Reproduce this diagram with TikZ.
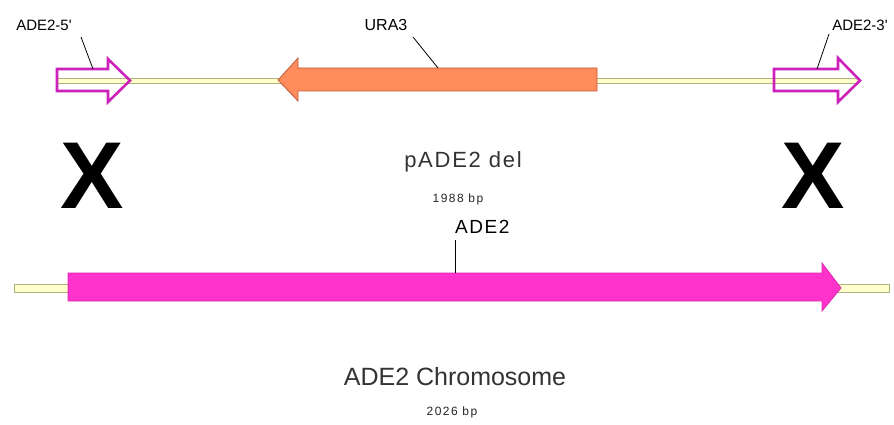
\documentclass[tikz,border=0pt]{standalone}
\usepackage{fontspec}
\setmainfont{Liberation Sans}
\begin{document}
\begin{tikzpicture}[x=1pt,y=-1pt,
  backbone/.style={draw=olivegray,fill=creamy,line width=0.8pt},
  hollowarrow/.style={draw=magline,line width=2.6pt,line join=miter},
  leader/.style={draw=black,line width=0.8pt},
  lbl/.style={inner sep=0pt,font=\fontsize{15}{15}\selectfont},
]
\definecolor{olivegray}{RGB}{176,176,128}
\definecolor{creamy}{RGB}{255,255,204}
\definecolor{magline}{RGB}{204,34,187}
\definecolor{orangefill}{RGB}{255,140,90}
\definecolor{orangeline}{RGB}{190,90,60}
\definecolor{pinkfill}{RGB}{255,51,204}
\definecolor{pinkline}{RGB}{220,40,170}
\useasboundingbox (0,0) rectangle (894,425);
\fill[white] (0,0) rectangle (894,425);

% top plasmid backbone
\path[backbone] (57,78) rectangle (858,83);

% ADE2-5' hollow arrow
\path[hollowarrow] (57,69) -- (108,69) -- (108,59) -- (130,80.5) -- (108,102) -- (108,91) -- (57,91) -- cycle;
\coordinate (a5) at (93,69);
% ADE2-3' hollow arrow
\path[hollowarrow] (774,69) -- (838,69) -- (838,58) -- (860,80.5) -- (838,102) -- (838,91) -- (774,91) -- cycle;
\coordinate (a3) at (817,69);
% URA3 arrow
\path[draw=orangeline,fill=orangefill,line width=0.8pt] (597,68) -- (298,68) -- (298,58) -- (278,80) -- (298,101) -- (298,91) -- (597,91) -- cycle;
\coordinate (u3) at (438,68);

% labels
\node[lbl] (l5) at (44,25) {ADE2-5\textquotesingle};
\node[lbl] (l3) at (860,25) {ADE2-3\textquotesingle};
\node[lbl,font=\fontsize{16}{16}\selectfont] (lu) at (386,25) {URA3};
\draw[leader] (81,37) -- (a5);
\draw[leader] (829,34) -- (a3);
\draw[leader] (413,37) -- (u3);

% X marks
\node[inner sep=0pt,font=\bfseries\fontsize{95}{95}\selectfont] (x1) at (92,176) {X};
\node[inner sep=0pt,font=\bfseries\fontsize{95}{95}\selectfont] (x2) at (813,176) {X};

% plasmid name
\node[inner sep=0pt,text=black!80,font=\fontsize{22}{22}\selectfont\addfontfeatures{LetterSpace=8}] (pname) at (463,162) {pADE2 del};
\node[inner sep=0pt,text=black!85,font=\fontsize{12}{12}\selectfont\addfontfeatures{LetterSpace=12}] (psize) at (458,199) {1988 bp};

% chromosome
\path[backbone] (14,284) rectangle (889,292);
\path[draw=pinkline,fill=pinkfill,line width=0.8pt] (68,273) -- (822,273) -- (822,263) -- (841,288) -- (822,311) -- (822,301) -- (68,301) -- cycle;
\coordinate (ade2pt) at (455,273);
\node[anchor=south west,inner sep=0pt,font=\fontsize{19}{19}\selectfont\addfontfeatures{LetterSpace=8}] (lade2) at (455,234) {ADE2};
\draw[leader] (455,240) -- (ade2pt);

\node[inner sep=0pt,text=black!80,font=\fontsize{25}{25}\selectfont] (cname) at (455,377) {ADE2 Chromosome};
\node[inner sep=0pt,text=black!85,font=\fontsize{12}{12}\selectfont\addfontfeatures{LetterSpace=12}] (csize) at (452,412) {2026 bp};
\end{tikzpicture}
\end{document}
